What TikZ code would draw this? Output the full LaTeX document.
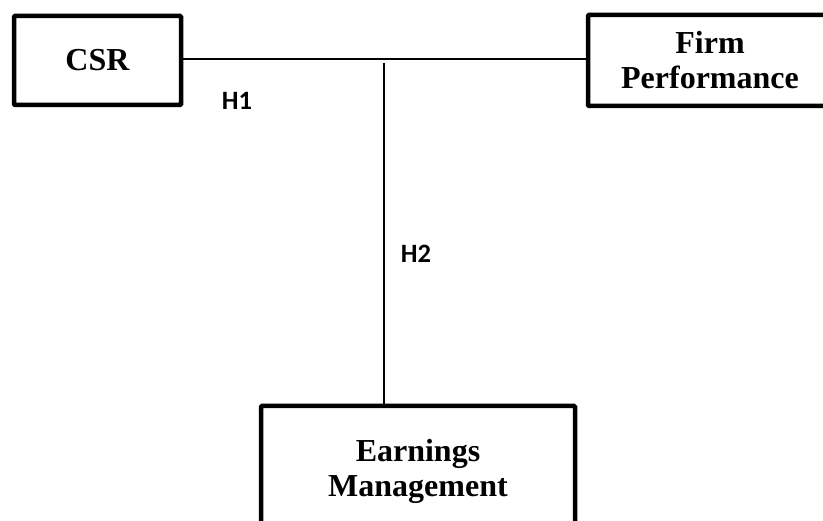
\documentclass[tikz,border=0pt]{standalone}
\usepackage{fontspec}
\setmainfont{Liberation Serif}
\newfontfamily\hfont{Carlito}
\begin{document}
\begin{tikzpicture}[x=1pt,y=-1pt,
  varbox/.style={draw=black,line width=4.5pt,rounded corners=1pt,fill=white,
    font=\fontsize{32}{35}\selectfont\bfseries,align=center,inner sep=0pt},
  conn/.style={draw=black,line width=1.8pt},
  hlabel/.style={font=\hfont\fontsize{26.5}{30}\selectfont\bfseries,inner sep=0pt}]
\useasboundingbox (0,0) rectangle (823,521);
\clip (0,0) rectangle (823,521);
\node[varbox,minimum width=167pt,minimum height=89pt] (csr) at (97.5,60.5) {CSR};
\node[varbox,minimum width=244pt,minimum height=91pt] (fp) at (710,60.5) {Firm\\Performance};
\node[varbox,minimum width=314pt,minimum height=130pt] (em) at (418,471) {Earnings\\Management};
\coordinate (hy) at (384,59);
\coordinate (vtop) at (384,63);
\draw[conn] (csr.east |- hy) -- (fp.west |- hy);
\draw[conn] (vtop) -- (em.north -| vtop);
\node[hlabel] (h1) at (237,101) {H1};
\node[hlabel] (h2) at (416,254) {H2};
\end{tikzpicture}
\end{document}
